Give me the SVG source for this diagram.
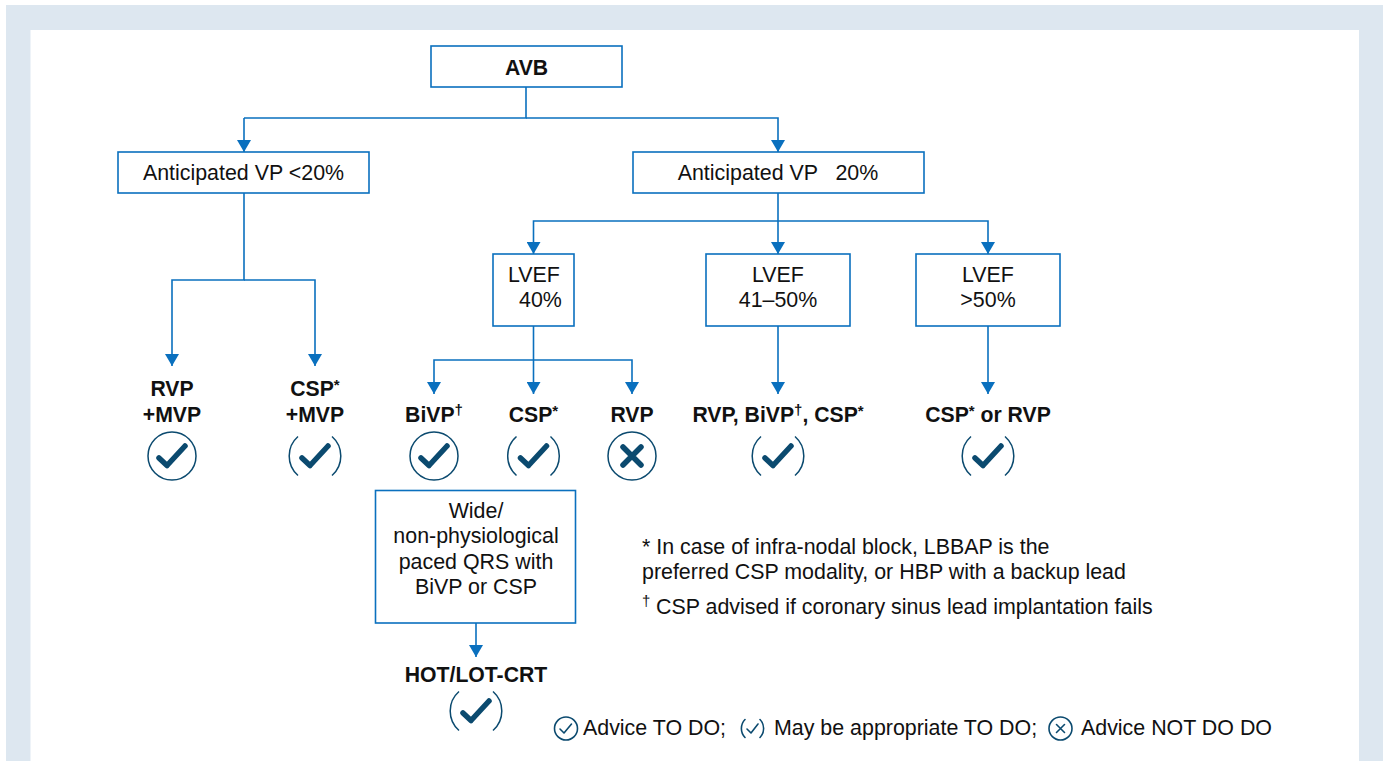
<svg xmlns="http://www.w3.org/2000/svg" width="1386" height="761" viewBox="0 0 1386 761">
<style>
text{font-family:"Liberation Sans",Arial,sans-serif;font-size:21.4px;fill:#111;text-anchor:middle}
.b{font-weight:700;font-size:21.2px}
.l{text-anchor:start}
.box{fill:#fff;stroke:#0a70be;stroke-width:1.6}
.c{fill:none;stroke:#0a70be;stroke-width:1.6}
.ring{fill:none;stroke:#0b4a6f;stroke-width:1.5}
.tick{fill:none;stroke:#0b4a6f;stroke-width:5.5;stroke-linecap:round;stroke-linejoin:round}
.tk2{fill:none;stroke:#0b4a6f;stroke-width:1.6;stroke-linecap:round;stroke-linejoin:round}
.sup{font-size:15px}
</style>
<defs>
<marker id="a" markerUnits="userSpaceOnUse" markerWidth="12" markerHeight="14" refX="12" refY="7" orient="auto" viewBox="0 0 12 14"><path d="M0 0L12 7L0 14Z" fill="#0a70be"/></marker>
<g id="chk"><circle r="24" class="ring"/><path class="tick" d="M-13 2L-5 9.500L13 -10"/></g>
<g id="mchk"><path class="ring" d="M-17 -19.500A26 26 0 0 0 -17 19.500M17 -19.500A26 26 0 0 1 17 19.500"/><path class="tick" d="M-13 2L-5 9.500L13 -10"/></g>
</defs>
<rect x="6" y="5" width="1377" height="756" fill="#dde7f0"/>
<rect x="30.500" y="30" width="1328.500" height="731" fill="#fff"/>
<g id="connectors">
<path class="c" d="M526 87V118H244" /><path class="c" d="M244 118V152" marker-end="url(#a)"/>
<path class="c" d="M526 118H778V152" marker-end="url(#a)"/>
<path class="c" d="M244 193V280H172V366" marker-end="url(#a)"/>
<path class="c" d="M244 280H315V366" marker-end="url(#a)"/>
<path class="c" d="M778 193V254" marker-end="url(#a)"/>
<path class="c" d="M778 221H533.500V254" marker-end="url(#a)"/>
<path class="c" d="M778 221H988V254" marker-end="url(#a)"/>
<path class="c" d="M533.500 326V394" marker-end="url(#a)"/>
<path class="c" d="M533.500 360H434V394" marker-end="url(#a)"/>
<path class="c" d="M533.500 360H632V394" marker-end="url(#a)"/>
<path class="c" d="M778 326V394" marker-end="url(#a)"/>
<path class="c" d="M988 326V394" marker-end="url(#a)"/>
<path class="c" d="M476 623V657" marker-end="url(#a)"/>
</g>
<g id="n-avb"><rect class="box" x="431" y="46" width="191" height="41"/><text class="b" x="526.500" y="75">AVB</text></g>
<g id="n-vp-low"><rect class="box" x="118" y="152" width="251" height="41"/><text x="243.500" y="180">Anticipated VP &lt;20%</text></g>
<g id="n-vp-high"><rect class="box" x="633" y="152" width="291" height="41"/><text x="778" y="180" xml:space="preserve">Anticipated VP   20%</text></g>
<g id="n-lvef40"><rect class="box" x="493" y="254" width="81" height="72"/><text x="508" y="282" class="l">LVEF</text><text x="519" y="307" class="l">40%</text></g>
<g id="n-lvef41"><rect class="box" x="706" y="254" width="144" height="72"/><text x="778" y="282">LVEF</text><text x="778" y="307">41–50%</text></g>
<g id="n-lvef50"><rect class="box" x="916" y="254" width="144" height="72"/><text x="988" y="282">LVEF</text><text x="988" y="307">&gt;50%</text></g>
<g id="n-rvp-mvp"><text class="b" x="172" y="396">RVP</text><text class="b" x="172" y="422">+MVP</text><use href="#chk" x="172" y="456"/></g>
<g id="n-csp-mvp"><text class="b" x="315" y="396">CSP<tspan class="sup" dy="-6">*</tspan></text><text class="b" x="315" y="422">+MVP</text><use href="#mchk" x="315" y="456"/></g>
<g id="n-bivp"><text class="b" x="434" y="422">BiVP<tspan class="sup" dy="-7">†</tspan></text><use href="#chk" x="434" y="456"/></g>
<g id="n-csp"><text class="b" x="533.500" y="422">CSP<tspan class="sup" dy="-6">*</tspan></text><use href="#mchk" x="533.500" y="456"/></g>
<g id="n-rvp"><text class="b" x="632" y="422">RVP</text><circle cx="632" cy="456" r="24" class="ring"/><path class="tick" d="M-9 -9L9 9M9 -9L-9 9" transform="translate(632 456)"/></g>
<g id="n-mixed"><text class="b" x="778" y="422">RVP, BiVP<tspan class="sup" dy="-7">†</tspan><tspan dy="7">, CSP</tspan><tspan class="sup" dy="-6">*</tspan></text><use href="#mchk" x="778" y="456"/></g>
<g id="n-csp-rvp"><text class="b" x="988" y="422">CSP<tspan class="sup" dy="-6">*</tspan><tspan dy="6"> or RVP</tspan></text><use href="#mchk" x="988" y="456"/></g>
<g id="n-wide"><rect class="box" x="375.500" y="490.500" width="200" height="132.500"/><text x="476" y="518">Wide/</text><text x="476" y="543">non-physiological</text><text x="476" y="569">paced QRS with</text><text x="476" y="594">BiVP or CSP</text></g>
<g id="n-hot"><text class="b" x="476" y="682">HOT/LOT-CRT</text><use href="#mchk" x="476" y="711"/></g>
<g id="notes">
<text class="l" x="642" y="554">* In case of infra-nodal block, LBBAP is the</text>
<text class="l" x="642" y="579">preferred CSP modality, or HBP with a backup lead</text>
<text class="l sup" x="642" y="606">†</text><text class="l" x="656" y="614">CSP advised if coronary sinus lead implantation fails</text>
</g>
<g id="legend">
<circle class="tk2" cx="566" cy="728.500" r="11.500"/><path class="tk2" d="M560 729L564 733L571.500 724"/>
<text class="l" x="583" y="735">Advice TO DO;</text>
<path class="tk2" d="M745 719.500A13 13 0 0 0 745 737.500M760 719.500A13 13 0 0 1 760 737.500"/><path class="tk2" d="M747 729L751 733L758 724"/>
<text class="l" x="774" y="735">May be appropriate TO DO;</text>
<circle class="tk2" cx="1060.500" cy="728.500" r="11.500"/><path class="tk2" d="M1056.500 724.500L1064.500 732.500M1064.500 724.500L1056.500 732.500"/>
<text class="l" x="1081" y="735">Advice NOT DO DO</text>
</g>
</svg>
